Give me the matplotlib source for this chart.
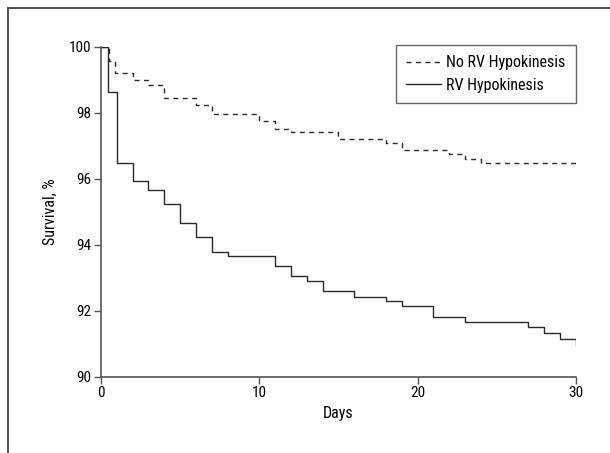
import matplotlib
matplotlib.use('Agg')
import matplotlib.pyplot as plt
from matplotlib.lines import Line2D

# Kaplan-Meier steps (day, survival %)
no_rv_days = [0, 0.5, 0.9, 2, 3, 4, 6, 7, 10, 11, 12, 15, 18, 19, 22, 23, 24, 30]
no_rv_surv = [100, 99.58, 99.19, 98.98, 98.85, 98.44, 98.24, 97.97, 97.75,
              97.5, 97.41, 97.19, 97.08, 96.87, 96.75, 96.6, 96.47, 96.37]

rv_days = [0, 0.45, 1, 2, 3, 4, 5, 6, 7, 8, 11, 12, 13, 14, 16, 18, 19,
           21, 23, 27, 28, 29, 30]
rv_surv = [100, 98.63, 96.46, 95.92, 95.65, 95.23, 94.66, 94.23, 93.79,
           93.65, 93.34, 93.05, 92.89, 92.59, 92.43, 92.28, 92.13, 91.81,
           91.66, 91.5, 91.33, 91.15, 90.95]

x_ticks = [0, 10, 20, 30]
y_ticks = [90, 92, 94, 96, 98, 100]

plt.rcParams['font.family'] = ['Roboto Condensed', 'Archivo Narrow', 'DejaVu Sans']
plt.rcParams['font.size'] = 11.5

line_col = '#2a2a2a'
axis_col = '#555555'

fig = plt.figure(figsize=(6.1, 4.53), dpi=100)
ax = fig.add_axes([0.1656, 0.1684, 0.944 - 0.1656, 0.897 - 0.1684])

# outer frame (top and left only visible)
fig.add_artist(Line2D([0.013, 1.0], [0.983, 0.983], transform=fig.transFigure,
                      color='#444444', lw=1.3))
fig.add_artist(Line2D([0.013, 0.013], [0.0, 0.983], transform=fig.transFigure,
                      color='#444444', lw=1.3))

ax.step(no_rv_days, no_rv_surv, where='post', color=line_col, lw=1.0,
        linestyle=(0, (3.6, 3.2)), label='No RV Hypokinesis')
ax.step(rv_days, rv_surv, where='post', color=line_col, lw=1.0,
        label='RV Hypokinesis')

ax.set_xlim(0, 30)
ax.set_ylim(90, 100)
ax.set_xticks(x_ticks)
ax.set_yticks(y_ticks)
ax.tick_params(labelsize=11)
ax.set_xlabel('Days', labelpad=4)
ax.set_ylabel('Survival, %', labelpad=8)

for s in ['top', 'right']:
    ax.spines[s].set_visible(False)
for s in ['left', 'bottom']:
    ax.spines[s].set_color(axis_col)
    ax.spines[s].set_linewidth(1.2)
ax.tick_params(direction='out', length=5, width=1, color=axis_col, pad=2)

leg = ax.legend(loc='upper right', bbox_to_anchor=(1.0, 1.005), fancybox=False,
                framealpha=1, edgecolor='#666666', handlelength=2.2,
                borderpad=0.65, borderaxespad=0, handletextpad=0.3,
                labelspacing=0.45)
leg.get_frame().set_linewidth(1.0)

fig.savefig('out.png', dpi=100)
